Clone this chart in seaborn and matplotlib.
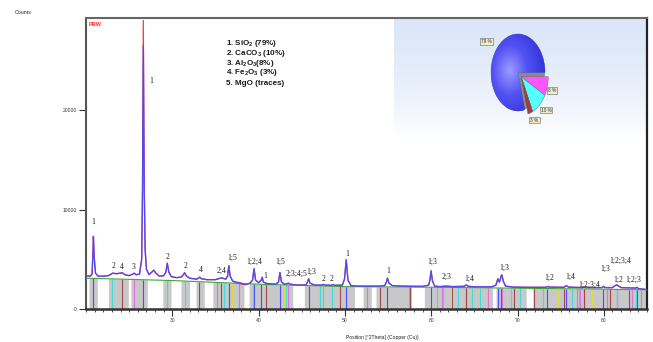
import numpy as np
import pandas as pd
import matplotlib
matplotlib.use("Agg")
import matplotlib.pyplot as plt
from matplotlib.patches import Wedge
from matplotlib.ticker import MultipleLocator
from matplotlib.colors import LinearSegmentedColormap
import seaborn as sns

# ---------------- data ----------------
# Observed diffractogram: 2theta (deg) and intensity (counts)
two_theta = [
    20.0, 20.5, 20.7, 20.8, 20.86, 20.95, 21.1, 21.4, 22.0, 22.6, 22.9, 23.1, 23.5, 24.0,
    24.2, 24.5, 25.0, 25.4, 25.6, 25.8, 26.2, 26.45, 26.55, 26.64, 26.75, 26.85, 27.0, 27.3,
    27.6, 27.85, 28.1, 28.5, 29.0, 29.25, 29.42, 29.6, 29.9, 30.5, 31.0, 31.25, 31.42, 31.6,
    32.0, 32.8, 33.05, 33.17, 33.35, 34.0, 35.0, 35.4, 35.65, 35.9, 36.2, 36.4, 36.55, 36.7,
    37.0, 37.5, 38.0, 38.5, 39.0, 39.3, 39.47, 39.65, 40.0, 40.3, 40.42, 40.55, 41.0, 42.0,
    42.3, 42.47, 42.65, 43.0, 43.3, 43.45, 43.6, 44.5, 45.5, 45.65, 45.8, 45.95, 46.5, 47.3,
    47.5, 47.7, 48.4, 48.6, 48.8, 49.7, 49.95, 50.15, 50.35, 50.7, 51.5, 52.5, 54.0, 54.6,
    54.8, 54.93, 55.1, 55.5, 56.5, 58.0, 59.0, 59.7, 59.85, 59.98, 60.15, 60.4, 61.0, 61.7,
    62.5, 63.8, 64.05, 64.3, 65.0, 67.0, 67.5, 67.72, 67.9, 68.1, 68.18, 68.35, 68.6, 69.5,
    71.0, 73.3, 73.5, 73.7, 75.4, 75.65, 75.9, 77.5, 77.7, 77.9, 79.8, 79.95, 80.15, 81.0,
    81.3, 81.5, 81.7, 82.0, 83.7, 83.85, 84.0, 85.0,
]
counts_obs = [
    3350, 3300, 3500, 5500, 7300, 5200, 3600, 3300, 3300, 3350, 3500, 3600, 3550, 3600,
    3650, 3450, 3350, 3500, 3600, 3450, 3500, 5000, 12000, 29000, 12000, 6000, 4000, 3450,
    3700, 3900, 3600, 3300, 3350, 3700, 4600, 3700, 3250, 3150, 3200, 3400, 3650, 3350,
    3100, 3000, 3100, 3200, 3050, 2950, 2950, 3050, 3120, 3080, 3000, 3300, 4350, 3300,
    2800, 2600, 2500, 2450, 2600, 2900, 4050, 2900, 2650, 2900, 3200, 2700, 2550, 2500,
    2700, 3670, 2700, 2500, 2550, 2600, 2500, 2400, 2420, 2700, 3030, 2600, 2400, 2400,
    2470, 2400, 2380, 2450, 2380, 2400, 3000, 4950, 2900, 2350, 2300, 2300, 2300, 2350,
    2700, 3100, 2600, 2350, 2300, 2280, 2270, 2400, 2900, 3840, 2800, 2300, 2250, 2300,
    2250, 2280, 2420, 2280, 2230, 2230, 2400, 3030, 2700, 3300, 3430, 2800, 2300, 2200,
    2180, 2180, 2260, 2200, 2180, 2350, 2200, 2150, 2200, 2150, 2150, 2280, 2150, 2150,
    2350, 2420, 2320, 2150, 2100, 2180, 2050, 1950,
]
# Calculated profile: same as observed except at these angles
calc_adjust_theta = [26.64, 37.5, 38.0]
calc_adjust_counts = [26500, 2700, 2600]

# Fitted background
bg_theta = [20, 30, 40, 50, 60, 70, 80, 85]
bg_counts = [3100, 2860, 2490, 2250, 2190, 2090, 1990, 1920]

# Reference-pattern bands (2theta ranges)
band_start = [20.35, 22.6, 25.2, 28.9, 31.0, 32.75, 34.7, 38.9, 45.3, 52.1, 53.6, 59.2, 67.5, 71.8]
band_end = [21.3, 24.9, 27.1, 29.85, 32.0, 33.7, 38.3, 43.95, 51.1, 53.05, 57.7, 67.1, 71.0, 84.8]

# Reference stick positions of each phase
sticks_quartz = [20.86, 26.64, 36.54, 39.47, 40.29, 42.45, 45.79, 50.14, 54.87, 59.96, 64.04,
                 67.74, 68.14, 73.47, 75.66, 77.67, 79.88, 81.49, 83.84]
sticks_calcite = [23.06, 29.41, 31.44, 35.97, 39.40, 43.15, 47.12, 47.51, 48.51, 57.40, 60.68,
                  61.40, 63.06, 64.67, 65.62, 69.21, 70.24, 72.94, 76.30, 77.14, 81.50, 83.76]
sticks_alumina = [25.58, 35.15, 37.78, 43.36, 52.55, 57.50, 61.30, 66.52, 68.21, 76.87, 77.23,
                  80.42, 80.70, 83.21, 84.36]
sticks_hematite = [24.14, 33.15, 35.61, 40.85, 49.48, 54.09, 57.59, 62.45, 63.99, 69.60, 71.94,
                   75.43, 77.73, 80.71, 82.94, 84.91]
sticks_periclase = [36.94, 42.92, 62.30, 74.69, 78.63]

# Peak identification labels
peak_label_text = ["1", "1", "2", "4", "3", "2", "2", "4", "2;4", "1;5", "1;2;4", "1", "1;5",
                   "2;3;4;5", "1;3", "2", "2", "1", "1", "1;3", "2;3", "1;4", "1;3", "1;2", "1;4",
                   "1;2;3;4", "1;3", "1;2;3;4", "1;2", "1;2;3"]
peak_label_theta = [20.87, 27.53, 23.2, 24.15, 25.48, 29.45, 31.5, 33.25, 35.76, 36.96, 39.5, 40.75,
                    42.55, 44.35, 46.1, 47.5, 48.5, 50.3, 55.0, 60.1, 61.8, 64.45, 68.5, 73.65,
                    76.05, 78.3, 80.2, 81.85, 81.7, 83.4]
peak_label_counts = [8770, 22950, 4370, 4200, 4270, 5220, 4370, 3900, 3870, 5150, 4780, 3300,
                     4750, 3500, 3770, 3030, 3030, 5480, 3770, 4780, 3260, 3030, 4110, 3160,
                     3200, 2390, 4010, 4850, 2930, 2930]

# Composition
composition_lines = ["1. SiO$_2$ (79%)", "2. CaCO$_3$ (10%)", "3. Al$_2$O$_3$(8%)",
                     "4. Fe$_2$O$_3$ (3%)", "5. MgO (traces)"]
pie_values = [8, 10, 3, 79]
pie_labels = ["8 %", "10 %", "3 %", "79 %"]
pie_colors = ["#ff55ff", "#55ffff", "#a03c3c", "#4b4bf0"]

# ---------------- style ----------------
sns.set_style("white")
plt.rcParams["font.family"] = ["Liberation Sans", "DejaVu Sans"]
plt.rcParams["mathtext.fontset"] = "custom"
plt.rcParams["mathtext.rm"] = "Liberation Sans:bold"
plt.rcParams["mathtext.it"] = "Liberation Sans:bold"
plt.rcParams["mathtext.bf"] = "Liberation Sans:bold"

W, H = 653, 342
fig = plt.figure(figsize=(W / 100, H / 100), dpi=100)
fig.patch.set_facecolor("white")


def fx(px):
    return px / W


def fy(py):
    return 1 - py / H


ax = fig.add_axes([fx(86), fy(309), 561 / W, 291 / H])

# light panel behind the composition pie
grad = np.linspace(0, 1, 256)[:, None] ** 1.6
panel_cmap = LinearSegmentedColormap.from_list("panel", ["#dbe7f8", "#ffffff"])
ax.imshow(grad, extent=[0.549, 0.998, 0.58, 0.997], transform=ax.transAxes,
          cmap=panel_cmap, aspect="auto", zorder=0, interpolation="bilinear")

# reference-pattern bands
for a, b in zip(band_start, band_end):
    xs = np.array([a, b])
    ax.fill_between(xs, 0, np.interp(xs, bg_theta, bg_counts), color="#c8c8c8", lw=0, zorder=1)

# phase sticks
stick_sets = [(sticks_quartz, "#4a4aff"), (sticks_calcite, "#40dcdc"), (sticks_alumina, "#e070e0"),
              (sticks_hematite, "#a04848"), (sticks_periclase, "#dcdc3c")]
for pos, col in stick_sets:
    pos = np.array(pos)
    ax.vlines(pos, 0, np.interp(pos, bg_theta, bg_counts), colors=col, lw=0.8, zorder=2)

# profiles
df = pd.DataFrame({"two_theta": two_theta, "obs": counts_obs})
df["calc"] = df["obs"]
for t, c in zip(calc_adjust_theta, calc_adjust_counts):
    df.loc[np.isclose(df["two_theta"], t), "calc"] = c

sns.lineplot(data=df, x="two_theta", y="obs", ax=ax, color="#ff3a3a", lw=0.9,
             sort=False, estimator=None, zorder=3)
sns.lineplot(x=bg_theta, y=bg_counts, ax=ax, color="#3aa83a", lw=0.8, zorder=3)
sns.lineplot(data=df, x="two_theta", y="calc", ax=ax, color="#4848ff", lw=1.0, alpha=0.92,
             sort=False, estimator=None, zorder=4)

for txt, t, c in zip(peak_label_text, peak_label_theta, peak_label_counts):
    ax.text(t, c, txt, ha="center", va="center", fontsize=5.5, family="Liberation Serif",
            color="#1a1a1a", zorder=6)

ax.text(0.004, 0.979, "PBW", transform=ax.transAxes, ha="left", va="center",
        fontsize=4, color="#ff3030", fontweight="bold")

ax.set_xlim(20, 85)
ax.set_ylim(0, 29250)
ax.set_xlabel("")
ax.set_ylabel("")
ax.set_xticks([30, 40, 50, 60, 70, 80])
ax.xaxis.set_minor_locator(MultipleLocator(1))
ax.set_yticks([0, 10000, 20000])
ax.tick_params(axis="both", which="both", bottom=True, left=True, direction="out",
               colors="#333333", labelsize=3.6)
ax.tick_params(axis="both", which="major", length=5, width=0.8, pad=1.5)
ax.tick_params(axis="x", which="minor", length=2.2, width=0.6)
for name, col, lw in [("left", "#555555", 1.5), ("top", "#666666", 1.5),
                      ("right", "#222222", 1.6), ("bottom", "#333333", 1.8)]:
    ax.spines[name].set_visible(True)
    ax.spines[name].set_color(col)
    ax.spines[name].set_linewidth(lw)

fig.text(fx(23), fy(13), "Counts", fontsize=3.8, ha="center", va="center", color="#222222")
fig.text(fx(382), fy(338), "Position [°2Theta] (Copper (Cu))", fontsize=3.6,
         ha="center", va="center", color="#222222")

# composition list
line_y = [43.3, 53.5, 63.2, 72.9, 83.3]
for s, py in zip(composition_lines, line_y):
    fig.text(fx(226), fy(py), s, fontsize=5.8, fontweight="bold", ha="left", va="center",
             color="#1a1a1a")

# composition pie (drawn in a stretched inset so it appears elliptical)
cx, cy, rx, ry, lim = 518, 72.5, 27, 38.5, 1.3
pax = fig.add_axes([fx(cx - rx * lim), fy(cy + ry * lim), 2 * rx * lim / W, 2 * ry * lim / H])
pax.add_patch(Wedge((0, 0), 0.97, -78, 2, color="#8a8a8a", zorder=0.5))
wedges, _ = pax.pie(pie_values, colors=pie_colors, startangle=0, counterclock=False,
                    wedgeprops=dict(edgecolor="#666666", linewidth=0.3))
for w in wedges[:3]:
    w.set_center((0.12, -0.11))
yy, xx = np.mgrid[1:-1:200j, -1:1:200j]
shade = np.hypot(xx + 0.3, yy - 0.05)
blue_cmap = LinearSegmentedColormap.from_list("pieblue", ["#9c9cff", "#5252f4", "#3434dc"])
img = pax.imshow(shade, extent=[-1, 1, -1, 1], cmap=blue_cmap, vmin=0, vmax=1.3,
                 zorder=1.5, aspect="auto", interpolation="bilinear")
img.set_clip_path(wedges[3])
label_px = [(552, 90.5), (546, 110), (534.5, 120), (486.5, 41.5)]
for txt, (px, py) in zip(pie_labels, label_px):
    pax.text((px - cx) / rx, (cy - py) / ry, txt, fontsize=3.4, ha="center", va="center",
             color="#333333", zorder=5,
             bbox=dict(boxstyle="square,pad=0.2", fc="#efeccc", ec="#666666", lw=0.4))
pax.set_aspect("auto")
pax.set_xlim(-lim, lim)
pax.set_ylim(-lim, lim)
pax.axis("off")

fig.savefig("out.png", dpi=100)
